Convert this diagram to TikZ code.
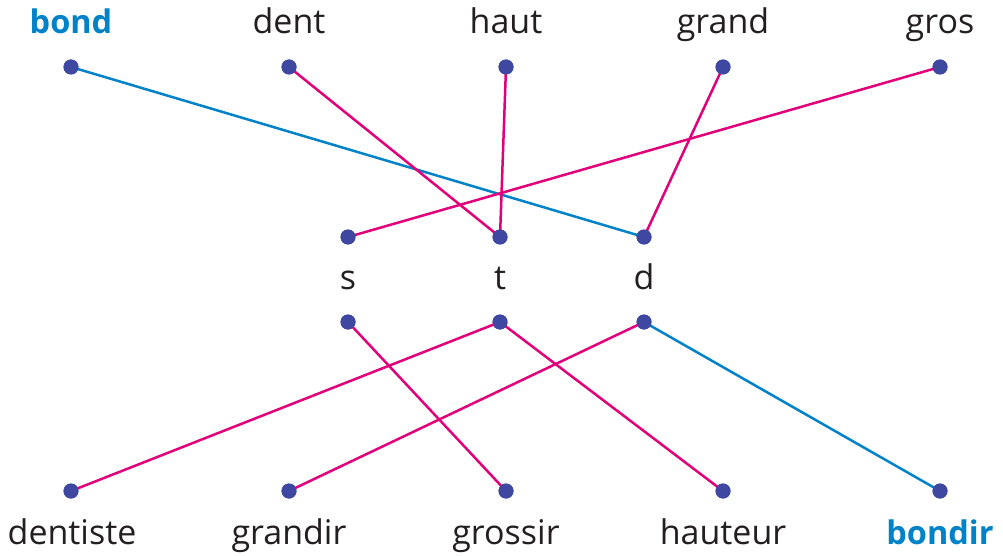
\documentclass[tikz,border=0pt]{standalone}
\usepackage{fontspec}
\setmainfont{Open Sans}
\definecolor{lblue}{HTML}{0082C8}
\definecolor{lmag}{HTML}{E2007A}
\definecolor{ldot}{HTML}{3F48A0}
\definecolor{ltext}{HTML}{231F20}
\begin{document}
\begin{tikzpicture}[x=1pt,y=-1pt,
  dot/.style={circle,fill=ldot,inner sep=0pt,minimum size=15pt},
  word/.style={anchor=base,text=ltext,font=\fontsize{34}{40}\selectfont,inner sep=0pt},
  bword/.style={word,text=lblue,font=\fontsize{32.5}{38}\selectfont\bfseries},
  mline/.style={draw=lmag,line width=2.5pt},
  bline/.style={draw=lblue,line width=2.5pt}]
\useasboundingbox (0,0) rectangle (1003,556);
% top row
\node[dot] (t1) at (71,67) {};
\node[dot] (t2) at (289,67) {};
\node[dot] (t3) at (506,67) {};
\node[dot] (t4) at (723,67) {};
\node[dot] (t5) at (940,67) {};
\node[bword] (w1) at (71,34) {bond};
\node[word] (w2) at (289,34) {dent};
\node[word] (w3) at (506,34) {haut};
\node[word] (w4) at (723,34) {grand};
\node[word] (w5) at (940,34) {gros};
% middle
\node[dot] (ms) at (348,237) {};
\node[dot] (mt) at (500,237) {};
\node[dot] (md) at (644,237) {};
\node[word] (ls) at (348,289) {s};
\node[word] (lt) at (500,289) {t};
\node[word] (ld) at (644,289) {d};
\node[dot] (ns) at (348,322) {};
\node[dot] (nt) at (500,322) {};
\node[dot] (nd) at (644,322) {};
% bottom
\node[dot] (b1) at (71,491) {};
\node[dot] (b2) at (289,491) {};
\node[dot] (b3) at (506,491) {};
\node[dot] (b4) at (723,491) {};
\node[dot] (b5) at (940,491) {};
\node[word] (v1) at (72,544) {dentiste};
\node[word] (v2) at (289,544) {grandir};
\node[word] (v3) at (506,544) {grossir};
\node[word] (v4) at (723,544) {hauteur};
\node[bword] (v5) at (940,544) {bondir};
% connectors
\draw[bline] (t1.center) -- (md.center);
\draw[mline] (t2.center) -- (mt.center);
\draw[mline] (t3.center) -- (mt.center);
\draw[mline] (t4.center) -- (md.center);
\draw[mline] (t5.center) -- (ms.center);
\draw[mline] (ns.center) -- (b3.center);
\draw[mline] (nt.center) -- (b1.center);
\draw[mline] (nt.center) -- (b4.center);
\draw[mline] (nd.center) -- (b2.center);
\draw[bline] (nd.center) -- (b5.center);
% redraw dots on top
\foreach \n in {t1,t2,t3,t4,t5,ms,mt,md,ns,nt,nd,b1,b2,b3,b4,b5}
  \fill[ldot] (\n.center) circle (7.5pt);
\end{tikzpicture}
\end{document}
